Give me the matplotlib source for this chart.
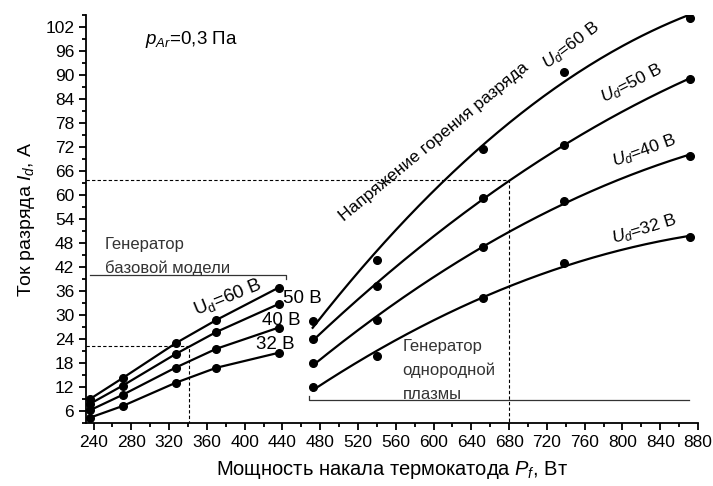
import numpy as np
import matplotlib
matplotlib.use("Agg")
import matplotlib.pyplot as plt
from matplotlib.ticker import MultipleLocator

plt.rcParams["font.family"] = ["Liberation Sans", "DejaVu Sans"]
plt.rcParams["mathtext.fontset"] = "custom"
plt.rcParams["mathtext.rm"] = "Liberation Sans"
plt.rcParams["mathtext.it"] = "Liberation Sans:italic"

# left group: "генератор базовой модели"
p_base = [236, 271, 327, 370, 436]
base_60 = [8.9, 14.2, 22.9, 28.7, 36.8]
base_50 = [7.7, 12.3, 20.2, 25.7, 32.7]
base_40 = [6.1, 10.0, 16.8, 21.5, 26.8]
base_32 = [4.25, 7.2, 13.0, 16.75, 20.5]

# right group: "генератор однородной плазмы"
p_plasma = [472, 540, 652, 738, 871]
plasma_60 = [28.4, 43.6, 71.5, 90.8, 104.2]
plasma_50 = [24.0, 37.1, 59.2, 72.6, 89.0]
plasma_40 = [17.9, 28.7, 46.9, 58.5, 69.8]
plasma_32 = [11.9, 19.8, 34.2, 43.0, 49.4]

xticks = list(range(240, 881, 40))
yticks = list(range(6, 103, 6))

fig = plt.figure(figsize=(7.13, 4.86), dpi=100)
ax = fig.add_axes([0.1206, 0.1302, 0.8584, 0.8389])

for ys in (base_60, base_50, base_40, base_32):
    ax.plot(p_base, ys, color="black", lw=1.6, marker="o", ms=5.5)

# right group: smooth (2nd order) fit through the measured points
xs = np.linspace(p_plasma[0], p_plasma[-1], 200)
for ys in (plasma_60, plasma_50, plasma_40, plasma_32):
    coef = np.polyfit(p_plasma, ys, 2)
    ax.plot(xs, np.polyval(coef, xs), color="black", lw=1.6)
    ax.plot(p_plasma, ys, "o", color="black", ms=5.5)

# dashed guide lines
dash = dict(color="black", lw=0.8, ls=(0, (3, 2)))
ax.plot([232, 341, 341], [22.1, 22.1, 3], **dash)
ax.plot([232, 680, 680], [63.6, 63.6, 3], **dash)

# generator ranges
ax.plot([236, 444, 444], [40, 40, 39], color="#333333", lw=0.9)
ax.plot([468, 468, 870], [9.75, 8.75, 8.75], color="#333333", lw=0.9)

ax.set_xlim(232, 880)
ax.set_ylim(3, 105)
ax.xaxis.set_minor_locator(MultipleLocator(20))
ax.yaxis.set_minor_locator(MultipleLocator(3))
ax.set_xticks(xticks)
ax.set_yticks(yticks)
ax.tick_params(which="major", direction="out", length=5, width=1.3, labelsize=12.5)
ax.tick_params(which="minor", direction="out", length=3, width=1.3)
for s in ("top", "right"):
    ax.spines[s].set_visible(False)
for s in ("left", "bottom"):
    ax.spines[s].set_linewidth(1.3)

ax.set_xlabel(r"Мощность накала термокатода $\mathit{P}_{\mathit{f}}$, Вт", fontsize=14.5, labelpad=7)
ax.set_ylabel(r"Ток разряда $\mathit{I}_{\mathit{d}}$, А", fontsize=14, labelpad=6)

ax.text(294, 99, r"$\mathit{p}_{\mathit{Ar}}$=0,3 Па", fontsize=13.5, va="center", ha="left")
ax.text(600, 73.3, "Напряжение горения разряда", fontsize=12.5, rotation=39.5,
        rotation_mode="anchor", ha="center", va="center")

ax.text(746, 97.3, r"$\mathit{U}_{\mathit{d}}$=60 В", fontsize=12.5, rotation=37,
        rotation_mode="anchor", ha="center", va="center")
ax.text(810, 87.8, r"$\mathit{U}_{\mathit{d}}$=50 В", fontsize=12.5, rotation=27,
        rotation_mode="anchor", ha="center", va="center")
ax.text(823, 71, r"$\mathit{U}_{\mathit{d}}$=40 В", fontsize=12.5, rotation=20,
        rotation_mode="anchor", ha="center", va="center")
ax.text(823, 51.5, r"$\mathit{U}_{\mathit{d}}$=32 В", fontsize=12.5, rotation=17,
        rotation_mode="anchor", ha="center", va="center")

ax.text(382, 34.3, r"U$_\mathrm{d}$=60 В", fontsize=13.5, rotation=22,
        rotation_mode="anchor", ha="center", va="center")
ax.text(461, 34.1, "50 В", fontsize=13.5, ha="center", va="center")
ax.text(439, 28.6, "40 В", fontsize=13.5, ha="center", va="center")
ax.text(432, 22.6, "32 В", fontsize=13.5, ha="center", va="center")

gen = dict(fontsize=12, color="#333333", va="center", ha="left")
ax.text(252, 47.6, "Генератор", **gen)
ax.text(252, 41.6, "базовой модели", **gen)
ax.text(567, 22, "Генератор", **gen)
ax.text(567, 16.1, "однородной", **gen)
ax.text(567, 10.1, "плазмы", **gen)

fig.savefig("out.png", dpi=100)
